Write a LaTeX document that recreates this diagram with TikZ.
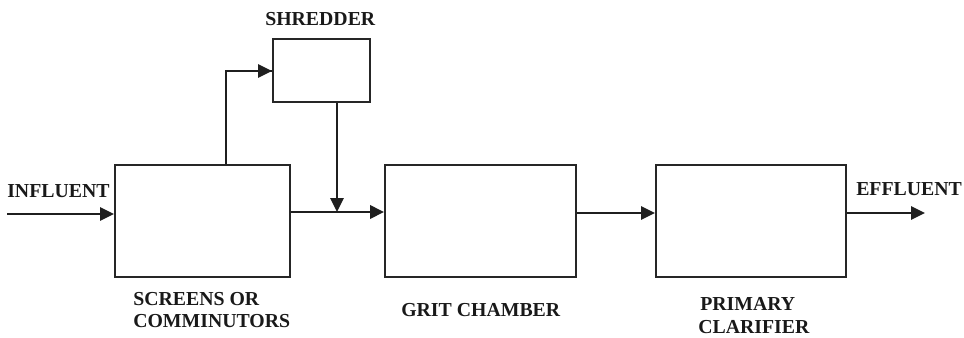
\documentclass[tikz,border=0pt]{standalone}
\usepackage{fontspec}
\setmainfont{Liberation Serif}
\usetikzlibrary{arrows.meta}
\begin{document}
\begin{tikzpicture}[x=0.75pt,y=-0.75pt,
  unitbox/.style={draw=black!85,line width=1.5pt,inner sep=0pt},
  lbl/.style={font=\fontsize{14.85pt}{17pt}\selectfont\bfseries,inner sep=0pt,anchor=base west,text=black!90},
  flow/.style={draw=black!88,line width=1.4pt,-{Triangle[length=10.5pt,width=10pt]}},
  thick flow/.style={flow,line width=2pt},
  plain/.style={draw=black!88,line width=1.4pt}]
\useasboundingbox (0,0) rectangle (964,337);
% boxes
\node[unitbox,minimum width={175*0.75pt},minimum height={112*0.75pt}] (screens) at (202.5,221) {};
\node[unitbox,minimum width={97*0.75pt},minimum height={63*0.75pt}] (shredder) at (321.5,70.5) {};
\node[unitbox,minimum width={191*0.75pt},minimum height={112*0.75pt}] (grit) at (480.5,221) {};
\node[unitbox,minimum width={190*0.75pt},minimum height={112*0.75pt}] (clarifier) at (751,221) {};
% labels
\node[lbl] (tin) at (7,197) {INFLUENT};
\node[lbl] (tshr) at (265,25) {SHREDDER};
\node[lbl] (tscr1) at (133,305) {SCREENS OR};
\node[lbl] (tscr2) at (133,327) {COMMINUTORS};
\node[lbl] (tgrit) at (401,316) {GRIT CHAMBER};
\node[lbl] (tpc1) at (700,310) {PRIMARY};
\node[lbl] (tpc2) at (698,333) {CLARIFIER};
\node[lbl] (teff) at (856,195) {EFFLUENT};
% coordinates
\coordinate (inflow) at (7,214);
\coordinate (mainy) at (0,212);
\coordinate (branchx) at (226,0);
\coordinate (branchy) at (0,71);
\coordinate (dropx) at (337,0);
\coordinate (pcy) at (0,213);
\coordinate (effend) at (925,213);
% connectors
\draw[flow] (inflow) -- (screens.west |- inflow);
\draw[plain] (screens.north -| branchx) |- (shredder.west |- branchy);
\draw[flow] (shredder.west |- branchy) ++(-2,0) -- (shredder.west |- branchy);
\draw[thick flow] (screens.east |- mainy) -- (grit.west |- mainy);
\draw[flow] (shredder.south -| dropx) -- (dropx |- mainy);
\draw[flow] (grit.east |- pcy) -- (clarifier.west |- pcy);
\draw[flow] (clarifier.east |- pcy) -- (effend);
\end{tikzpicture}
\end{document}
